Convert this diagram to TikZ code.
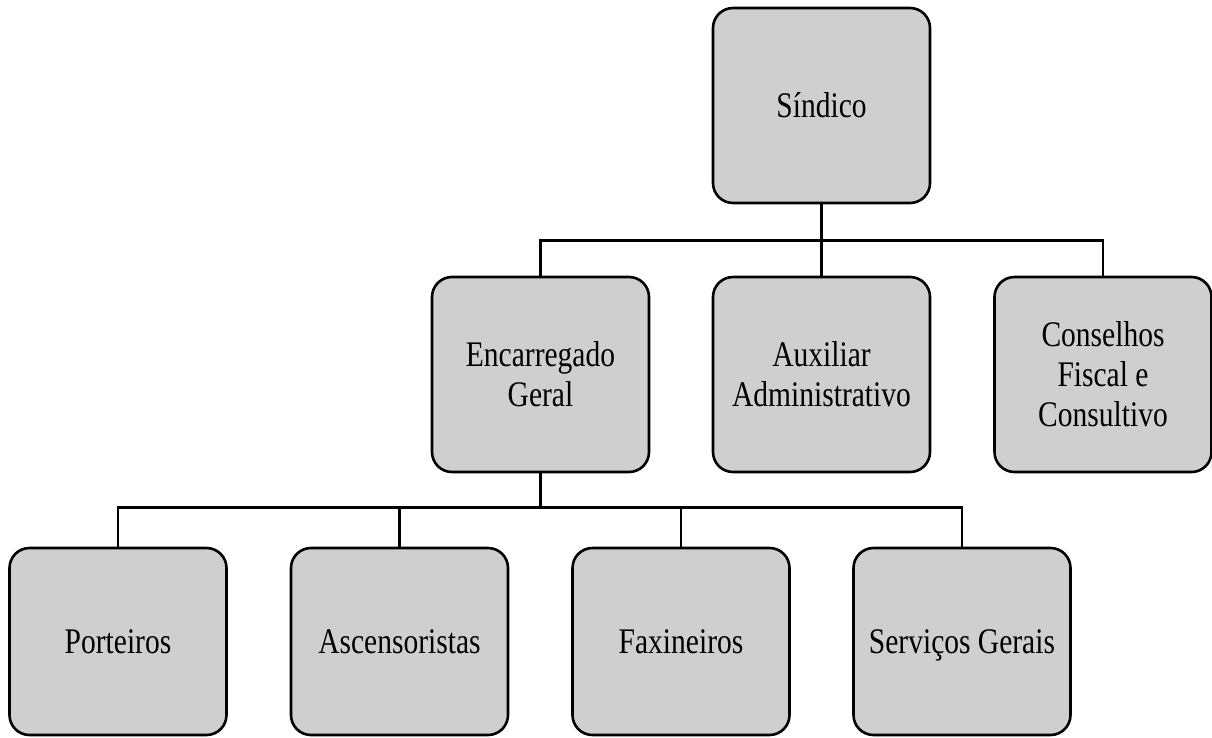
\documentclass[tikz,border=0pt]{standalone}
\usepackage{fontspec}
\setmainfont{Liberation Serif}[FakeStretch=0.82]
\definecolor{boxgray}{HTML}{CFCFCF}
\begin{document}
\begin{tikzpicture}[x=1pt,y=-1pt,
  box/.style={draw=black, line width=2.6pt, fill=boxgray, rounded corners=20pt,
    minimum width=217pt, minimum height=195pt, align=center, inner sep=0pt,
    font=\fontsize{36}{40}\selectfont},
  lowbox/.style={box, minimum height=187pt},
  conn/.style={draw=black, line width=2.6pt}]
\useasboundingbox (0,0) rectangle (1212,737);
\node[box] (sind) at (821.5,105.5) {Síndico};
\node[box] (enc) at (540.5,374.5) {Encarregado\\Geral};
\node[box] (aux) at (821.5,374.5) {Auxiliar\\Administrativo};
\node[box] (cons) at (1103,374.5) {Conselhos\\Fiscal e\\Consultivo};
\node[lowbox] (por) at (118,641.5) {Porteiros};
\node[lowbox] (asc) at (399.5,641.5) {Ascensoristas};
\node[lowbox] (fax) at (681,641.5) {Faxineiros};
\node[lowbox, text depth=0pt] (serv) at (962,641.5) {Serviços Gerais};
\coordinate (jb) at (540.5,509);
\draw[conn] (sind.south) -- (aux.north);
\draw[conn] (enc.north) -- ++(0,-35) -| (cons.north);
\draw[conn] (enc.south) -- (jb);
\draw[conn] (por.north) -- ++(0,-39) -| (serv.north);
\draw[conn] (asc.north) -- ++(0,-39);
\draw[conn] (fax.north) -- ++(0,-39);
\end{tikzpicture}
\end{document}
